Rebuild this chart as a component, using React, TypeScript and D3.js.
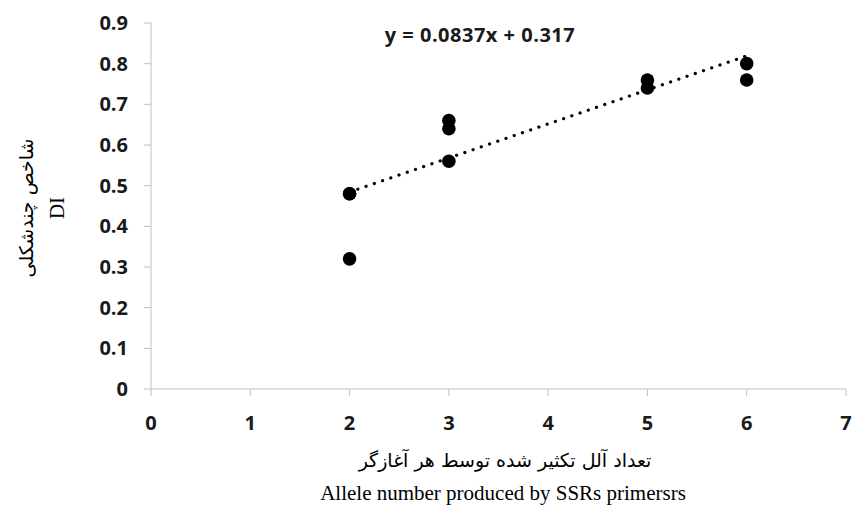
import React from "react";
import * as d3 from "d3";

const xValues = [2, 2, 2, 3, 3, 3, 5, 5, 6, 6];
const yValues = [0.48, 0.48, 0.32, 0.66, 0.64, 0.56, 0.76, 0.74, 0.8, 0.76];
const xTicks = [0, 1, 2, 3, 4, 5, 6, 7];
const yTicks = [0, 0.1, 0.2, 0.3, 0.4, 0.5, 0.6, 0.7, 0.8, 0.9];
const slope = 0.0837;
const intercept = 0.317;
const equationLabel = "y = 0.0837x + 0.317";
const xTitleFa = "تعداد آلل تکثیر شده توسط هر آغازگر";
const xTitleEn = "Allele number produced by SSRs primersrs";
const yTitleFa = "شاخص چندشکلی";
const yTitleEn = "DI";

export default function App() {
  const W = 852, H = 515;
  const x = d3.scaleLinear().domain([0, 7]).range([151, 846]);
  const y = d3.scaleLinear().domain([0, 0.9]).range([389, 23]);
  const xs = d3.extent(xValues) as [number, number];
  const line = d3.line<number>().x((d) => x(d)).y((d) => y(slope * d + intercept));
  const tickFont = "'Open Sans', 'DejaVu Sans', sans-serif";
  const faFont = "'DejaVu Sans', serif";
  const enFont = "'Liberation Serif', 'Times New Roman', serif";
  const axisColor = "#c0c0c0";
  return (
    <div style={{ position: "absolute", left: 0, top: 0 }}>
      <svg width={W} height={H} style={{ display: "block" }}>
        <rect width={W} height={H} fill="#fff" />
        <line x1={x(0)} x2={x(0)} y1={y(0.9)} y2={y(0)} stroke={axisColor} strokeWidth={1} />
        <line x1={x(0)} x2={x(7)} y1={y(0)} y2={y(0)} stroke={axisColor} strokeWidth={1} />
        {yTicks.map((t) => (
          <g key={"y" + t}>
            <line x1={x(0) - 7} x2={x(0)} y1={y(t)} y2={y(t)} stroke={axisColor} />
            <text x={128} y={y(t) + 7} textAnchor="end" fontFamily={tickFont} fontWeight="bold" fontSize={20} fill="#1a1a1a">
              {t === 0 ? "0" : t.toFixed(1)}
            </text>
          </g>
        ))}
        {xTicks.map((t) => (
          <g key={"x" + t}>
            <line x1={x(t)} x2={x(t)} y1={y(0)} y2={y(0) + 7} stroke={axisColor} />
            <text x={x(t)} y={430} textAnchor="middle" fontFamily={tickFont} fontWeight="bold" fontSize={20} fill="#1a1a1a">
              {t}
            </text>
          </g>
        ))}
        <path d={line([xs[0], xs[1]]) || ""} fill="none" stroke="#000" strokeWidth={3.2} strokeLinecap="round" strokeDasharray="0.1 8.6" />
        {xValues.map((v, i) => (
          <circle key={i} cx={x(v)} cy={y(yValues[i])} r={6.8} fill="#000" />
        ))}
        <text x={480} y={42} textAnchor="middle" fontFamily={tickFont} fontWeight="bold" fontSize={20} letterSpacing={0.5} fill="#1a1a1a">
          {equationLabel}
        </text>
        <text x={505} y={467} textAnchor="middle" direction="rtl" fontFamily={faFont} fontSize={19} fill="#000">
          {xTitleFa}
        </text>
        <text x={503} y={500} textAnchor="middle" fontFamily={enFont} fontSize={21} fill="#000">
          {xTitleEn}
        </text>
        <text transform={`translate(33,208) rotate(-90)`} textAnchor="middle" direction="rtl" fontFamily={faFont} fontSize={19} fill="#000">
          {yTitleFa}
        </text>
        <text transform={`translate(64,208) rotate(-90)`} textAnchor="middle" fontFamily={enFont} fontSize={21} fill="#000">
          {yTitleEn}
        </text>
      </svg>
    </div>
  );
}
